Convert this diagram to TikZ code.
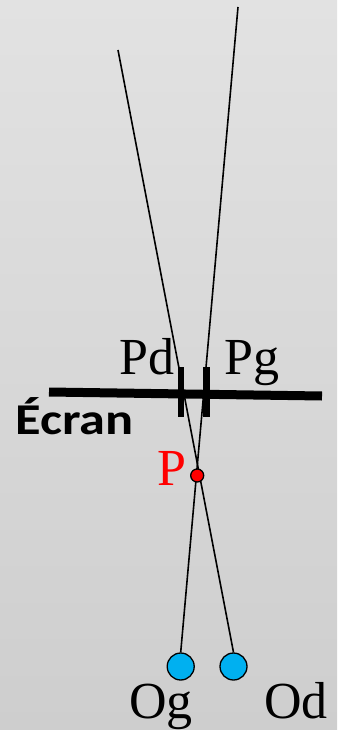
\documentclass[tikz,border=0pt]{standalone}
\usepackage{fontspec}
\setmainfont{Liberation Serif}
\newfontfamily\labelsans{Carlito}
\usetikzlibrary{calc}
\definecolor{bgtop}{RGB}{226,226,226}
\definecolor{bgbot}{RGB}{206,206,206}
\definecolor{eyeblue}{RGB}{0,176,240}
\tikzset{
  ray/.style={line width=1.6pt, black},
  screen/.style={line width=9pt, black},
  tick/.style={line width=6.5pt, black},
  eye/.style={circle, draw=black, line width=1.3pt, fill=eyeblue, minimum size=27pt, inner sep=0pt},
  dotp/.style={circle, draw=black, line width=1.3pt, fill=red, minimum size=13pt, inner sep=0pt},
  lab/.style={anchor=base west, inner sep=0pt, font=\fontsize{52}{52}\selectfont},
}
\begin{document}
\begin{tikzpicture}[x=1pt, y=-1pt]
  \shade[top color=bgtop, bottom color=bgbot] (0,0) rectangle (337,730);
  \useasboundingbox (0,0) rectangle (337,730);
  % eyes
  \node[eye] (og) at (180.7,666.5) {};
  \node[eye] (od) at (233.5,666.5) {};
  % far ends of the rays
  \coordinate (tl) at (118,50);
  \coordinate (tr) at (238,7);
  % rays
  \draw[ray] (og.north) -- (tr);
  \draw[ray] (od.north) -- (tl);
  % screen
  \coordinate (sl) at (49,392);
  \coordinate (sr) at (322,396);
  \draw[screen] (sl) -- (sr);
  \coordinate (pdt) at (181,367);
  \coordinate (pdb) at (181,417);
  \coordinate (pgt) at (206.5,367);
  \coordinate (pgb) at (206.5,417);
  \draw[tick] (pdt) -- (pdb);
  \draw[tick] (pgt) -- (pgb);
  % point P
  \node[dotp] (p) at (197.2,475.5) {};
  % labels
  \node[lab] (lpd) at (119,374) {Pd};
  \node[lab] (lpg) at (224,374) {Pg};
  \node[lab, text=red] (lp) at (157,485) {P};
  \node[lab] (log) at (129,718) {Og};
  \node[lab] (lod) at (264,718) {Od};
  \node[anchor=base west, inner sep=0pt, font=\labelsans\bfseries\fontsize{44}{44}\selectfont] (ecran) at (15,434) {\scalebox{1.19}[1]{Écran}};
\end{tikzpicture}
\end{document}
